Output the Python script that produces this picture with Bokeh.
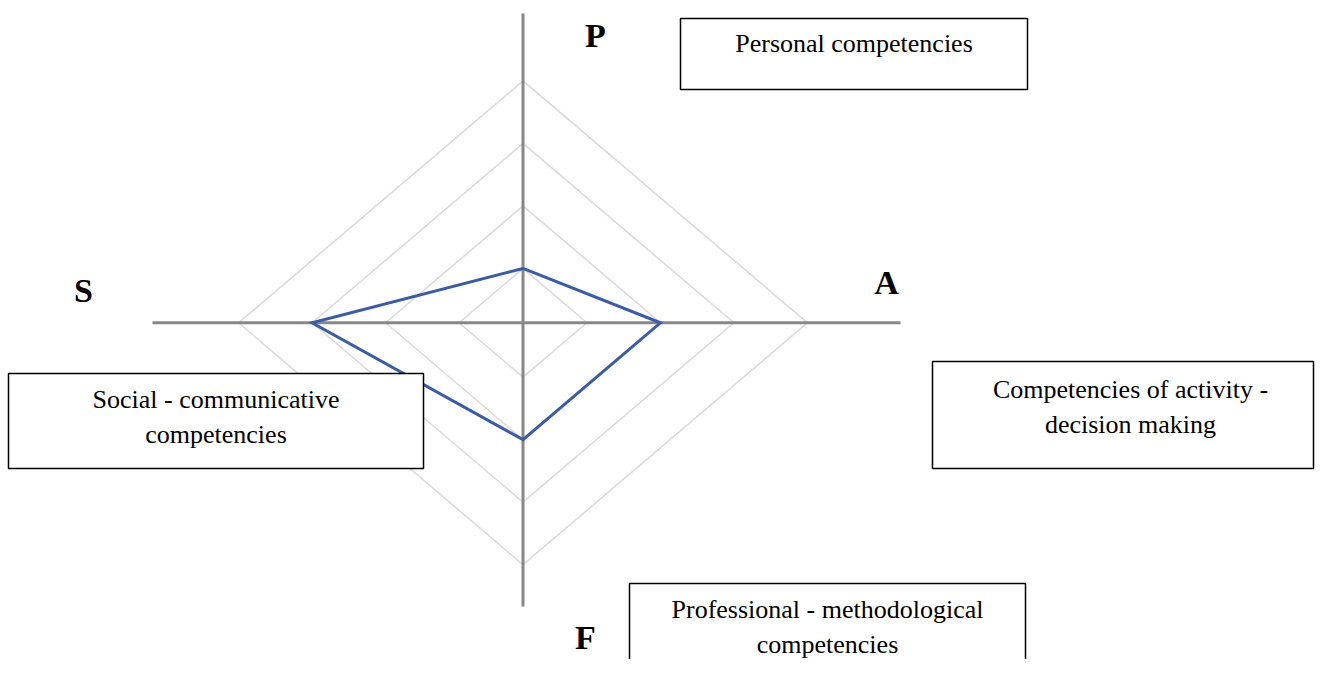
import math
from bokeh.plotting import figure
from bokeh.models import Range1d, BoxAnnotation, Label
from bokeh.embed import file_html
from bokeh.resources import INLINE

# ---------------- data ----------------
axis_names = ["P", "A", "F", "S"]
axis_angles_deg = [90, 0, 270, 180]
scores = [1, 2, 2, 3]
grid_levels = [1, 2, 3, 4]
box_texts = [
    ["Personal competencies"],
    ["Social - communicative", "competencies"],
    ["Competencies of activity -", "decision making"],
    ["Professional - methodological", "competencies"],
]

# ---------------- layout / style ----------------
W, H = 1315, 659
CX, CY = 522.5, 322.3          # pixel position of the radar centre
SX, SY = 73.5, 62.5            # px per unit horizontally / vertically
R0 = 0.13                      # radial axis minimum at the centre

def dx(xp):
    return (xp - CX) / SX

def dy(yp):
    return (CY - yp) / SY

p = figure(width=W, height=H, output_backend="svg", toolbar_location=None,
           x_range=Range1d(dx(0), dx(W)), y_range=Range1d(dy(H), dy(0)),
           x_axis_location=None, y_axis_location=None, min_border=0)
p.outline_line_color = None
p.background_fill_color = "white"
p.border_fill_color = "white"
p.xgrid.visible = False
p.ygrid.visible = False

angles = [math.radians(a) for a in axis_angles_deg]

# grid diamonds
gxs, gys = [], []
for lvl in grid_levels:
    r = lvl - R0
    xs = [r * math.cos(a) for a in angles]
    ys = [r * math.sin(a) for a in angles]
    gxs.append(xs + xs[:1])
    gys.append(ys + ys[:1])
p.multi_line(gxs, gys, line_color="#d9d9d9", line_width=1.5)

# main axes (extents are layout)
p.segment(x0=[dx(152), 0], y0=[0, dy(13)], x1=[dx(900), 0], y1=[0, dy(606)],
          line_color="#888888", line_width=3)

# data polygon
vx = [(v - R0) * math.cos(a) for v, a in zip(scores, angles)]
vy = [(v - R0) * math.sin(a) for v, a in zip(scores, angles)]
p.line(vx + vx[:1], vy + vy[:1], line_color="#3b5ca3", line_width=3, line_join="miter")

# boxes (pixel boxes: left, top, right, bottom)
box_geom = [(680, 18, 1027, 89), (8, 373, 423, 468), (932, 361, 1313, 468), (629, 583, 1025, 720)]
for (l, t, r, b) in box_geom:
    p.add_layout(BoxAnnotation(left=dx(l), right=dx(r), top=dy(t), bottom=dy(b),
                               fill_color="white", fill_alpha=1.0,
                               line_color="black", line_width=1.5, line_alpha=1.0))

# box texts
TXT_SHIFT = 9
box_text_center_x = [853.5, 215.5, 1130, 827]
box_first_baseline = [52, 408, 398, 618]
LINE_GAP = 34.5
for lines, cxp, by in zip(box_texts, box_text_center_x, box_first_baseline):
    for i, line in enumerate(lines):
        p.add_layout(Label(x=dx(cxp), y=dy(by + i * LINE_GAP - TXT_SHIFT), text=line,
                           text_align="center", text_baseline="alphabetic",
                           text_font="Liberation Serif", text_font_size="26px",
                           text_color="black"))

# axis letters
LET_SHIFT = 13
letter_pos = {"P": (595, 48), "A": (886, 295), "F": (585, 650), "S": (83, 303)}
for name in axis_names:
    xp, yp = letter_pos[name]
    p.add_layout(Label(x=dx(xp), y=dy(yp - LET_SHIFT), text=name, text_align="center",
                       text_baseline="alphabetic", text_font="Liberation Serif",
                       text_font_style="bold", text_font_size="34px", text_color="black"))

open("out.html", "w").write(file_html(p, INLINE))
